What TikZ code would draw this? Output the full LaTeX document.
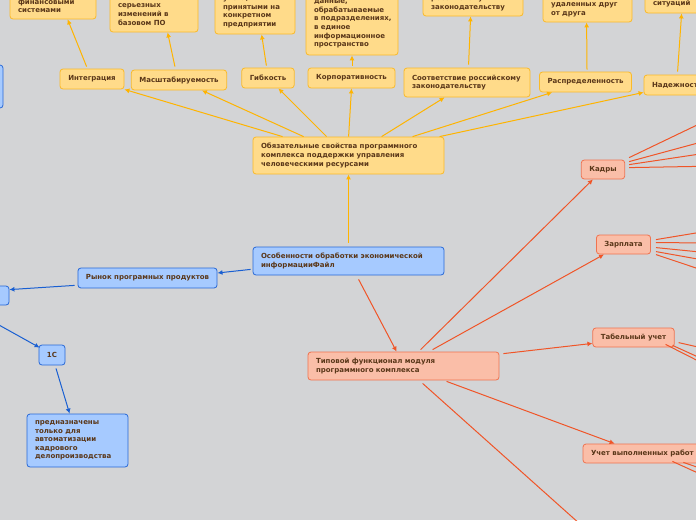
\documentclass[tikz,border=0pt]{standalone}
\usepackage{fontspec}
\setmainfont{DejaVu Sans}
\usetikzlibrary{arrows.meta}
\definecolor{bg}{RGB}{211,212,214}
\definecolor{yfill}{RGB}{255,219,138}
\definecolor{ydraw}{RGB}{250,186,40}
\definecolor{yline}{RGB}{255,180,0}
\definecolor{bfill}{RGB}{166,202,255}
\definecolor{bdraw}{RGB}{40,105,215}
\definecolor{bline}{RGB}{25,95,210}
\definecolor{rfill}{RGB}{250,190,168}
\definecolor{rdraw}{RGB}{240,115,80}
\definecolor{rline}{RGB}{240,85,40}
\definecolor{txt}{RGB}{90,55,25}
\tikzset{
  box/.style={rounded corners=3pt, line width=0.8pt, text=txt, inner xsep=8pt, inner ysep=0pt,
    font=\bfseries\fontsize{7}{8.6}\selectfont},
  ybox/.style={box, draw=ydraw, fill=yfill},
  bbox/.style={box, draw=bdraw, fill=bfill},
  rbox/.style={box, draw=rdraw, fill=rfill},
  sz/.style n args={2}{minimum width=#1pt, minimum height=#2pt},
  lbox/.style n args={2}{minimum width=#1pt, minimum height=#2pt, text width=#1pt-16pt, align=left},
  tip/.style={-{Latex[length=5pt,width=5pt]}},
  yarr/.style={tip, draw=yline, line width=1pt},
  barr/.style={tip, draw=bline, line width=1pt},
  rarr/.style={tip, draw=rline, line width=1pt},
}
\begin{document}
\begin{tikzpicture}[x=1pt,y=-1pt]
\useasboundingbox (0,0) rectangle (696,520);
\clip (0,0) rectangle (696,520);
\fill[bg] (0,0) rectangle (696,520);

% top (cut) yellow boxes
\node[ybox, lbox={86}{26.4}] (b1) at (53,5.8) {финансовыми\\системами};
\node[ybox, lbox={88}{35}] (b2) at (154,14.5) {серьезных\\изменений в\\базовом ПО};
\node[ybox, lbox={80}{43.6}] (b3) at (255,12.2) {учета,\\принятыми на\\конкретном\\предприятии};
\node[ybox, lbox={92}{62}] (b4) at (352,24) {данные,\\обрабатываемые\\\mbox{в подразделениях,}\\в единое\\информационное\\пространство};
\node[ybox, lbox={100}{25.4}] (b5) at (473,3.3) {российскому\\законодательству};
\node[ybox, lbox={89}{25}] (b6) at (587.5,9.5) {удаленных друг\\от друга};
\node[ybox, lbox={80}{18}] (b7) at (685,4) {ситуаций};

% second row
\node[ybox, sz={64}{20}] (integ) at (92,79) {Интеграция};
\node[ybox, sz={94}{20}] (mas) at (179,80) {Масштабируемость};
\node[ybox, sz={52}{20}] (gib) at (268,78) {Гибкость};
\node[ybox, sz={87}{20}] (korp) at (351.5,78) {Корпоративность};
\node[ybox, lbox={126}{29}] (sootv) at (467,82.5) {Соответствие российскому\\законодательству};
\node[ybox, sz={91}{20}] (raspr) at (585.5,82) {Распределенность};
\node[ybox, lbox={72}{20}] (nad) at (680,85) {Надежность};

% central
\node[ybox, lbox={191}{37}] (cent) at (348.5,155.5) {Обязательные свойства программного\\комплекса поддержки управления\\человеческими ресурсами};

% blue
\node[bbox, lbox={191}{28}] (bmain) at (348.5,261) {Особенности обработки экономической\\информацииФайл};
\node[bbox, sz={139}{20}] (rynok) at (147.5,278) {Рынок програмных продуктов};
\node[bbox, sz={60}{19}] (L1) at (-21,295.5) {};
\node[bbox, sz={60}{43}] (L0) at (-27,86.5) {};
\node[bbox, sz={26}{20}] (c1) at (52,355) {1С};
\node[bbox, lbox={101}{53}] (pred) at (77.5,440.5) {предназначены\\только для\\автоматизации\\кадрового\\делопроизводства};
\coordinate (offL) at (-10,320);

% red
\node[rbox, lbox={191}{28}] (rmain) at (403.5,366) {Типовой функционал модуля\\программного комплекса};
\node[rbox, sz={42}{19}] (kadry) at (603,169.5) {Кадры};
\node[rbox, sz={53}{19}] (zarp) at (623.5,244.5) {Зарплата};
\node[rbox, sz={81}{19}] (tab) at (633.5,337.5) {Табельный учет};
\node[rbox, lbox={122}{19}] (uchet) at (644,453.5) {Учет выполненных работ};

\coordinate (offB) at (590,533);
\coordinate (k1) at (720,114); \coordinate (k2) at (720,137);
\coordinate (k3) at (720,151); \coordinate (k4) at (720,166);
\coordinate (z1) at (720,229); \coordinate (z2) at (720,243);
\coordinate (z3) at (720,254); \coordinate (z4) at (720,263);
\coordinate (z5) at (720,276);
\coordinate (t1) at (720,352); \coordinate (t2) at (720,367);
\coordinate (t3) at (720,372);
\coordinate (u1) at (720,475); \coordinate (u2) at (720,483);

% yellow connectors
\draw[yarr] ([xshift=30pt]cent.north west) -- (integ.south east);
\draw[yarr] ([xshift=51pt]cent.north west) -- ([xshift=71pt]mas.south west);
\draw[yarr] ([xshift=74pt]cent.north west) -- ([xshift=37pt]gib.south west);
\draw[yarr] ([xshift=96pt]cent.north west) -- (korp.south);
\draw[yarr] ([xshift=129pt]cent.north west) -- ([xshift=41pt]sootv.south west);
\draw[yarr] ([xshift=160pt]cent.north west) -- ([xshift=13pt]raspr.south west);
\draw[yarr] ([xshift=187pt]cent.north west) -- ([yshift=3pt]nad.south west);
\draw[yarr] ([xshift=27pt,yshift=2pt]integ.north west) -- ([xshift=58pt]b1.south west);
\draw[yarr] ([xshift=44pt,yshift=3pt]mas.north west) -- ([xshift=58pt]b2.south west);
\draw[yarr] ([xshift=25pt,yshift=2pt]gib.north west) -- ([xshift=47pt]b3.south west);
\draw[yarr] ([xshift=0.5pt,yshift=2pt]korp.north) -- (b4.south);
\draw[yarr] ([xshift=65pt,yshift=3pt]sootv.north west) -- ([xshift=48pt]b5.south west);
\draw[yarr] ([xshift=1.5pt,yshift=2pt]raspr.north) -- ([xshift=44pt]b6.south west);
\draw[yarr] ([xshift=34pt,yshift=3pt]nad.north west) -- ([xshift=37pt]b7.south west);
\draw[yarr] ([yshift=4pt]bmain.north) -- (cent.south);

% blue connectors
\draw[barr] ([xshift=-2pt,yshift=6pt]bmain.south west) -- ([yshift=5pt]rynok.east);
\draw[barr] ([xshift=-3pt,yshift=3pt]rynok.south west) -- ([yshift=-4pt]L1.north east);
\draw[barr] (offL) -- ([xshift=1pt,yshift=-3pt]c1.north west);
\draw[barr] ([xshift=4pt,yshift=-3pt]c1.south) -- ([xshift=43pt]pred.north west);

% red connectors
\draw[rarr] ([xshift=106pt,yshift=-4pt]bmain.south west) -- ([xshift=89pt]rmain.north west);
\draw[rarr] ([xshift=113pt,yshift=2pt]rmain.north west) -- ([xshift=12pt]kadry.south west);
\draw[rarr] ([xshift=125pt,yshift=2pt]rmain.north west) -- ([xshift=8pt]zarp.south west);
\draw[rarr] ([xshift=4pt,yshift=-2pt]rmain.north east) -- ([yshift=4pt]tab.south west);
\draw[rarr] ([xshift=139pt,yshift=-1pt]rmain.south west) -- ([xshift=32pt]uchet.north west);
\draw[rarr] ([xshift=115pt,yshift=-3pt]rmain.south west) -- (offB);

\draw[rarr] ([xshift=4pt,yshift=2pt]kadry.north east) -- (k1);
\draw[rarr] ([xshift=4pt,yshift=-2pt]kadry.north east) -- (k2);
\draw[rarr] ([xshift=4pt,yshift=-5pt]kadry.north east) -- (k3);
\draw[rarr] ([xshift=4pt,yshift=-8pt]kadry.north east) -- (k4);
\draw[rarr] ([xshift=5pt,yshift=-5pt]zarp.north east) -- (z1);
\draw[rarr] ([xshift=5pt,yshift=-8pt]zarp.north east) -- (z2);
\draw[rarr] ([xshift=5pt,yshift=-13pt]zarp.north east) -- (z3);
\draw[rarr] ([xshift=5pt,yshift=-17pt]zarp.north east) -- (z4);
\draw[rarr] ([xshift=5pt,yshift=-20pt]zarp.north east) -- (z5);
\draw[rarr] ([xshift=4pt,yshift=-15pt]tab.north east) -- (t1);
\draw[rarr] ([xshift=-2pt,yshift=2pt]tab.south east) -- (t2);
\draw[rarr] ([xshift=-9pt,yshift=3pt]tab.south east) -- (t3);
\draw[rarr] ([xshift=-22pt,yshift=1pt]uchet.south east) -- (u1);
\draw[rarr] ([xshift=-33pt,yshift=2pt]uchet.south east) -- (u2);
\end{tikzpicture}
\end{document}
